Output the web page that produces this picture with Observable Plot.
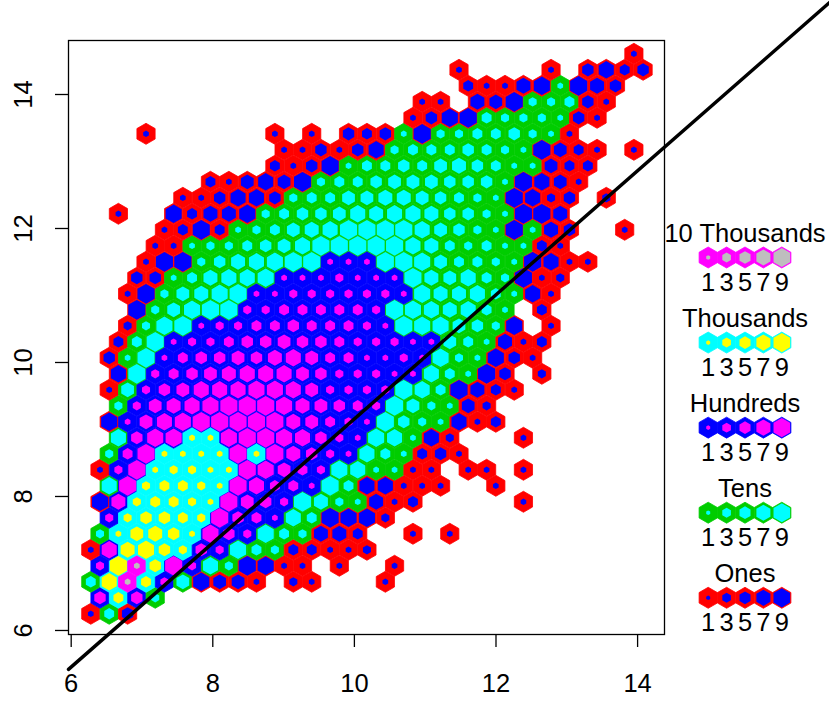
<!DOCTYPE html>
<html>
<head>
<meta charset="utf-8">
<style>
html,body{margin:0;padding:0;background:#fff}
#wrap{position:relative;width:829px;height:702px;overflow:hidden}
#wrap svg{display:block}
#legend{position:absolute;left:663px;top:0}
</style>
<script src="https://cdn.jsdelivr.net/npm/d3@7"></script>
<script src="https://cdn.jsdelivr.net/npm/@observablehq/plot@0.6"></script>
</head>
<body>
<div id="wrap"><div id="main"></div><div id="legend"></div></div>
<script>
// Estimated counts per lattice cell: one list per lattice row (bottom to top), index = column, 0 = empty
const rows = [
[1,30,4],
[400,3000,400,20],
[30,7000,10000,3000,200,50,8,5,5,1,0,2,1,0,0,0,1],
[200,9000,10000,4000,900,200,70,20,9,8,1,1,0,1,0,0,1],
[1,700,6000,8000,4000,2000,400,200,80,30,20,3,3,1,1,2],
[20,1000,5000,6000,4000,1000,800,400,200,80,30,20,6,6,3,0,0,1,0,1],
[0,200,2000,4000,4000,3000,2000,900,400,300,100,70,30,9,8,8,2],
[8,600,2000,3000,3000,2000,1000,900,500,400,200,90,60,20,10,6,1,3,0,0,0,0,0,1],
[0,70,900,2000,3000,3000,2000,1000,900,700,300,300,100,90,30,7,7,1,1,1,0,0,1],
[1,200,900,1000,2000,2000,1000,1000,900,800,500,300,200,80,70,10,10,1,1,0,1,1,0,1],
[0,20,300,900,1000,1000,1000,1000,900,1000,900,600,400,200,100,70,30,10,3,4,1],
[0,70,400,800,800,1000,1000,800,900,900,800,700,400,200,100,80,70,10,7,2,0,0,0,1],
[0,8,100,500,700,800,900,900,900,900,900,600,500,300,200,100,90,40,20,10,7,1,3],
[0,20,200,500,600,700,800,900,900,900,800,600,500,400,300,200,90,50,20,10,5,2],
[0,1,50,200,400,500,700,700,700,800,800,700,500,200,200,200,200,90,70,30,9,6,3,1],
[0,7,90,200,300,400,500,600,700,700,700,500,400,200,200,200,100,100,70,30,10,9,4,0,2],
[0,4,10,90,100,300,400,400,500,400,600,700,500,300,300,100,100,200,100,80,20,10,8,4,1],
[0,3,30,90,100,200,200,300,400,400,500,400,400,300,200,200,200,100,100,50,30,10,6,1,3],
[0,0,2,20,80,90,100,200,200,300,300,400,300,300,300,200,100,90,80,80,50,40,20,8,0,1],
[0,0,9,20,50,80,90,90,200,200,300,300,300,300,300,200,90,80,70,60,70,30,10,0,3],
[0,0,1,9,20,50,60,80,90,100,100,200,200,200,200,200,200,100,80,60,60,70,30,10,7,1],
[0,0,4,4,10,30,60,70,70,80,100,100,100,200,100,100,100,90,60,50,70,30,20,9,1,2],
[0,0,0,1,9,9,20,40,60,70,80,90,90,100,100,100,90,90,80,50,30,30,20,10,9,7,1,1],
[0,0,0,1,1,10,20,20,30,40,50,70,90,90,90,90,90,70,60,30,20,30,10,10,3,1],
[0,0,0,0,1,3,9,3,10,20,30,50,60,70,90,90,90,90,70,50,40,20,10,9,10,6,4,0,0,1],
[0,1,0,0,8,3,6,6,8,20,30,40,40,50,70,60,70,70,60,40,40,20,10,9,9,6],
[0,0,0,0,0,1,1,4,7,7,4,20,30,30,50,50,60,60,50,40,30,20,10,9,7,2,4,0,2],
[0,0,0,0,0,0,3,1,5,7,5,9,20,30,30,40,50,50,50,40,40,40,10,9,7,5,1],
[0,0,0,0,0,0,0,0,0,0,3,1,4,9,10,30,30,40,30,50,60,40,30,10,10,5,3,3],
[0,0,0,0,0,0,0,0,0,0,1,1,4,1,4,7,20,30,30,30,40,30,20,10,9,5,3,1,0,1],
[0,0,0,1,0,0,0,0,0,0,1,0,1,0,4,3,4,10,9,20,20,30,30,40,20,10,1],
[0,0,0,0,0,0,0,0,0,0,0,0,0,0,0,0,0,1,4,8,9,30,20,20,20,10,4,1],
[0,0,0,0,0,0,0,0,0,0,0,0,0,0,0,0,0,0,1,1,0,6,5,9,20,20,30,4,1],
[0,0,0,0,0,0,0,0,0,0,0,0,0,0,0,0,0,0,0,0,3,1,1,6,8,10,9,6,4],
[0,0,0,0,0,0,0,0,0,0,0,0,0,0,0,0,0,0,0,0,1,0,0,0,0,1,0,4,7,3,4],
[0,0,0,0,0,0,0,0,0,0,0,0,0,0,0,0,0,0,0,0,0,0,0,0,0,0,0,0,0,1]
];
const placeNames = ["Ones","Tens","Hundreds","Thousands","10 Thousands"];
const outerColors = ["#ff0000","#00cd00","#0000ff","#00ffff","#ff00ff"];
const innerColors = ["#0000ff","#00ffff","#ff00ff","#ffff00","#bebebe"];
const legendDigits = [1,3,5,7,9];
const xTicks = [6,8,10,12,14];
const yTicks = [6,8,10,12,14];
const diagonalX = [5.962,16.73];
const diagonalY = [5.42,15.39];
const latticeX0 = 6.2768, latticeDX = 0.26003, latticeY0 = 6.2493, latticeDY = 0.2388;

const FONT = "Liberation Sans, Arial, Helvetica, sans-serif";
const FS = 25.5;
const cells = rows.flatMap((counts, r) => counts.map((n, c) => ({
  n, r, c,
  x: latticeX0 + latticeDX * (c + (r % 2) / 2),
  y: latticeY0 + latticeDY * r,
  place: String(n).length - 1,
  digit: +String(n)[0]
})).filter(d => d.n > 0));
const diagonal = diagonalX.map((x, i) => ({x, y: diagonalY[i]}));
const OUTER_R = 9.1;

const main = Plot.plot({
  width: 829, height: 702,
  marginLeft: 68, marginRight: 165, marginTop: 40, marginBottom: 68,
  style: {fontFamily: FONT, background: "#fff", color: "#000"},
  x: {domain: [5.962, 14.38], label: null},
  y: {domain: [5.94, 14.806], label: null},
  r: {type: "sqrt", domain: [0, 10], range: [0, 9.0]},
  color: {type: "identity"},
  marks: [
    Plot.dot(cells, {x: "x", y: "y", r: OUTER_R, symbol: "hexagon", fill: d => outerColors[d.place], stroke: d => outerColors[d.place], strokeWidth: 0.8}),
    Plot.dot(cells, {x: "x", y: "y", r: "digit", symbol: "hexagon", fill: d => innerColors[d.place], stroke: null}),
    Plot.frame({stroke: "#000", strokeWidth: 1.3}),
    Plot.axisX({ticks: xTicks, tickSize: 13, tickPadding: 26, fontSize: FS, label: null, stroke: "#000", strokeWidth: 1.3, fill: "#000"}),
    Plot.axisY({ticks: yTicks, tickSize: 13, tickPadding: 24, fontSize: FS, label: null, tickRotate: -90, textAnchor: "middle", stroke: "#000", strokeWidth: 1.3, fill: "#000"}),
    Plot.line(diagonal, {x: "x", y: "y", stroke: "#000", strokeWidth: 3.5, clip: false})
  ]
});
main.style.overflow = "visible";
document.getElementById("main").append(main);

const legendCells = placeNames.flatMap((name, place) => legendDigits.map(digit => ({place, digit})));
const legendTitles = placeNames.map((name, place) => ({name, place, digit: 5}));
const legend = Plot.plot({
  width: 166, height: 702,
  margin: 0,
  style: {fontFamily: FONT, background: "transparent", color: "#000"},
  x: {domain: [1, 9], range: [44.7, 118.3], axis: null},
  y: {domain: [0, 4], range: [597.3, 257], axis: null},
  r: {type: "linear", domain: [1, 3, 5, 7, 9], range: [2, 4.3, 5.5, 7, 8.3]},
  color: {type: "identity"},
  marks: [
    Plot.dot(legendCells, {x: "digit", y: "place", r: OUTER_R, symbol: "hexagon", fill: d => outerColors[d.place], stroke: d => outerColors[d.place], strokeWidth: 0.8}),
    Plot.dot(legendCells, {x: "digit", y: "place", r: "digit", symbol: "hexagon", fill: d => innerColors[d.place], stroke: null}),
    Plot.text(legendTitles, {x: "digit", y: "place", text: "name", dy: -24, fontSize: FS, fill: "#000", textAnchor: "middle"}),
    Plot.text(legendCells, {x: "digit", y: "place", text: d => String(d.digit), dy: 25, fontSize: FS, fill: "#000", textAnchor: "middle"})
  ]
});
document.getElementById("legend").append(legend);
</script>
</body>
</html>
